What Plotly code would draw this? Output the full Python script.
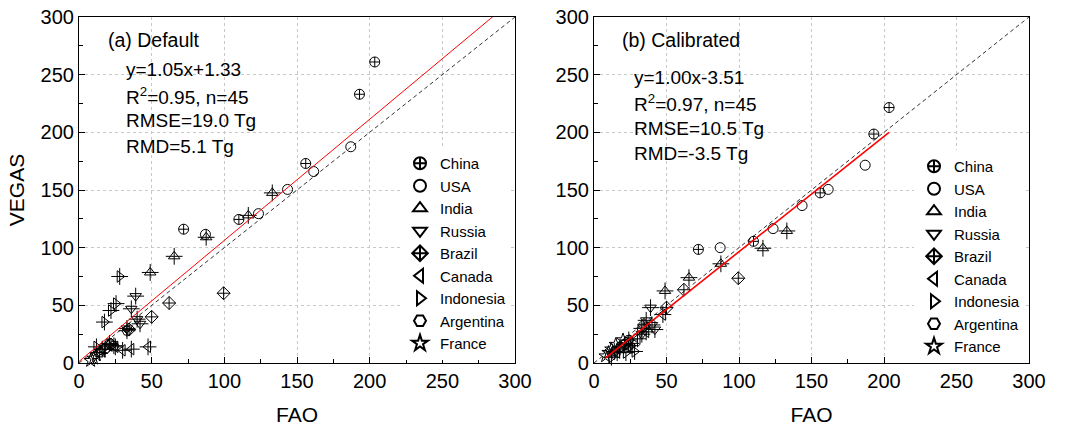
import numpy as np
import plotly.graph_objects as go

countries = ["China", "USA", "India", "Russia", "Brazil", "Canada", "Indonesia", "Argentina", "France"]
symbols = ["circle-cross-open", "circle-open", "triangle-up-open", "triangle-down-open", "diamond-cross-open",
           "triangle-left-open", "triangle-right-open", "hexagon2-open", "star-open"]
needs_cross = [False, False, True, True, False, True, True, True, False]

# FAO (x) values, shared by both panels
fao = {
    "China":     [203.5, 193.0, 156.0, 110.0, 72.0],
    "USA":       [187.0, 161.5, 143.5, 123.5, 87.0],
    "India":     [133.0, 116.5, 87.5, 65.5, 49.0],
    "Russia":    [39.0, 36.0, 42.0, 40.0, 33.0],
    "Brazil":    [99.5, 62.0, 50.0, 34.5, 22.0],
    "Canada":    [47.5, 36.0, 30.0, 25.0, 16.0],
    "Indonesia": [28.0, 25.5, 22.0, 17.5, 12.0],
    "Argentina": [33.0, 24.0, 21.0, 18.0, 14.0],
    "France":    [20.0, 15.0, 12.0, 10.0, 8.0],
}
# VEGAS default (panel a)
vegas_default = {
    "China":     [261.0, 233.0, 173.0, 124.5, 116.0],
    "USA":       [187.5, 166.0, 150.5, 129.5, 111.5],
    "India":     [147.5, 128.0, 109.0, 92.5, 78.5],
    "Russia":    [58.0, 47.0, 34.0, 38.0, 30.0],
    "Brazil":    [60.5, 52.0, 40.0, 29.0, 16.0],
    "Canada":    [14.0, 12.0, 11.0, 14.0, 12.0],
    "Indonesia": [75.0, 51.5, 45.5, 35.5, 14.0],
    "Argentina": [28.0, 15.0, 17.0, 12.0, 9.0],
    "France":    [15.0, 10.0, 7.0, 4.0, 2.0],
}
# VEGAS calibrated (panel b)
vegas_calibrated = {
    "China":     [221.5, 198.5, 147.5, 105.5, 98.5],
    "USA":       [171.5, 150.5, 136.5, 116.5, 100.0],
    "India":     [114.5, 99.5, 86.0, 74.0, 62.5],
    "Russia":    [48.0, 37.0, 29.0, 33.0, 25.0],
    "Brazil":    [73.5, 63.5, 48.0, 33.0, 17.0],
    "Canada":    [42.0, 27.0, 21.0, 17.0, 9.0],
    "Indonesia": [10.0, 15.0, 9.0, 12.0, 5.0],
    "Argentina": [30.0, 20.0, 16.0, 14.0, 10.0],
    "France":    [20.0, 16.0, 12.0, 9.0, 6.0],
}

fit_a = (1.05, 1.33)
fit_b = (1.00, -3.51)
stats_a = ["y=1.05x+1.33", "R<sup>2</sup>=0.95, n=45", "RMSE=19.0 Tg", "RMD=5.1 Tg"]
stats_b = ["y=1.00x-3.51", "R<sup>2</sup>=0.97, n=45", "RMSE=10.5 Tg", "RMD=-3.5 Tg"]
ticks = [0, 50, 100, 150, 200, 250, 300]

FONT = "Arial, 'Liberation Sans', sans-serif"
W, H = 1065, 428

fig = go.Figure()

panels = [("x", "y", vegas_default, "legend"), ("x2", "y2", vegas_calibrated, "legend2")]
for xa, ya, vegas, leg in panels:
    # 1:1 line
    fig.add_trace(go.Scatter(x=[0, 300], y=[0, 300], mode="lines", xaxis=xa, yaxis=ya,
                             line=dict(color="#333333", width=1, dash="4px,3px"), showlegend=False, hoverinfo="skip"))
    for c, s, cr in zip(countries, symbols, needs_cross):
        fig.add_trace(go.Scatter(x=fao[c], y=vegas[c], mode="markers", name=c, xaxis=xa, yaxis=ya, legend=leg,
                                 legendgroup=c + xa,
                                 marker=dict(symbol=s, size=10, color="black", line=dict(width=1, color="black")),
                                 cliponaxis=False))
        if cr:
            fig.add_trace(go.Scatter(x=fao[c], y=vegas[c], mode="markers", xaxis=xa, yaxis=ya, showlegend=False,
                                     legendgroup=c + xa,
                                     marker=dict(symbol="cross-thin-open", size=12, color="black",
                                                 line=dict(width=1, color="black")),
                                     cliponaxis=False))

all_fao = np.concatenate([fao[c] for c in countries])
# fit lines
xa_line = np.array([0, 300])
fig.add_trace(go.Scatter(x=xa_line, y=fit_a[0] * xa_line + fit_a[1], mode="lines", xaxis="x", yaxis="y",
                         line=dict(color="#ff0000", width=1), showlegend=False))
xb_line = np.array([all_fao.min(), all_fao.max()])
fig.add_trace(go.Scatter(x=xb_line, y=fit_b[0] * xb_line + fit_b[1], mode="lines", xaxis="x2", yaxis="y2",
                         line=dict(color="#ff0000", width=1.6), showlegend=False))

def px_x(p):
    return p / W

def px_y(p):
    return 1 - p / H

axis_common = dict(range=[0, 300], tickvals=ticks, ticks="inside", ticklen=6, tickwidth=1, tickcolor="black",
                   showline=True, linecolor="black", linewidth=1.2, mirror=True,
                   showgrid=True, gridcolor="#c8c8c8", griddash="dot", gridwidth=1,
                   zeroline=False, tickfont=dict(size=20, color="black", family=FONT),
                   minor=dict(ticks="inside", ticklen=4, tickcolor="black", dtick=25, showgrid=False),
                   automargin=False)

fig.update_layout(
    width=W, height=H, margin=dict(l=0, r=0, t=0, b=0),
    paper_bgcolor="white", plot_bgcolor="white",
    font=dict(family=FONT, color="black", size=19),
    xaxis=dict(domain=[px_x(79), px_x(515)], anchor="y",
               title=dict(text="FAO", font=dict(size=21), standoff=16), **axis_common),
    yaxis=dict(domain=[px_y(363), px_y(17)], anchor="x",
               title=dict(text="VEGAS", font=dict(size=21), standoff=10), **axis_common),
    xaxis2=dict(domain=[px_x(594), px_x(1029)], anchor="y2",
                title=dict(text="FAO", font=dict(size=21), standoff=16), **axis_common),
    yaxis2=dict(domain=[px_y(363), px_y(17)], anchor="x2", **axis_common),
    legend=dict(x=px_x(400), y=px_y(147), xanchor="left", yanchor="top", bgcolor="white",
                font=dict(size=15, family=FONT), itemsizing="constant", tracegroupgap=0),
    legend2=dict(x=px_x(914), y=px_y(150), xanchor="left", yanchor="top", bgcolor="white",
                 font=dict(size=15, family=FONT), itemsizing="constant", tracegroupgap=0),
)

annots = []
annots.append(dict(text="(a) Default", x=px_x(106), y=px_y(40), xref="paper", yref="paper",
                   xanchor="left", yanchor="middle", showarrow=False, font=dict(size=19.5)))
for i, t in enumerate(stats_a):
    annots.append(dict(text=t, x=px_x(124), y=px_y(70 + 25.5 * i), xref="paper", yref="paper",
                       xanchor="left", yanchor="middle", showarrow=False, font=dict(size=19)))
annots.append(dict(text="(b) Calibrated", x=px_x(620), y=px_y(40), xref="paper", yref="paper",
                   xanchor="left", yanchor="middle", showarrow=False, font=dict(size=19.5)))
for i, t in enumerate(stats_b):
    annots.append(dict(text=t, x=px_x(632), y=px_y(77 + 25.5 * i), xref="paper", yref="paper",
                       xanchor="left", yanchor="middle", showarrow=False, font=dict(size=19)))
fig.update_layout(annotations=annots)

fig.write_html("out.html")
